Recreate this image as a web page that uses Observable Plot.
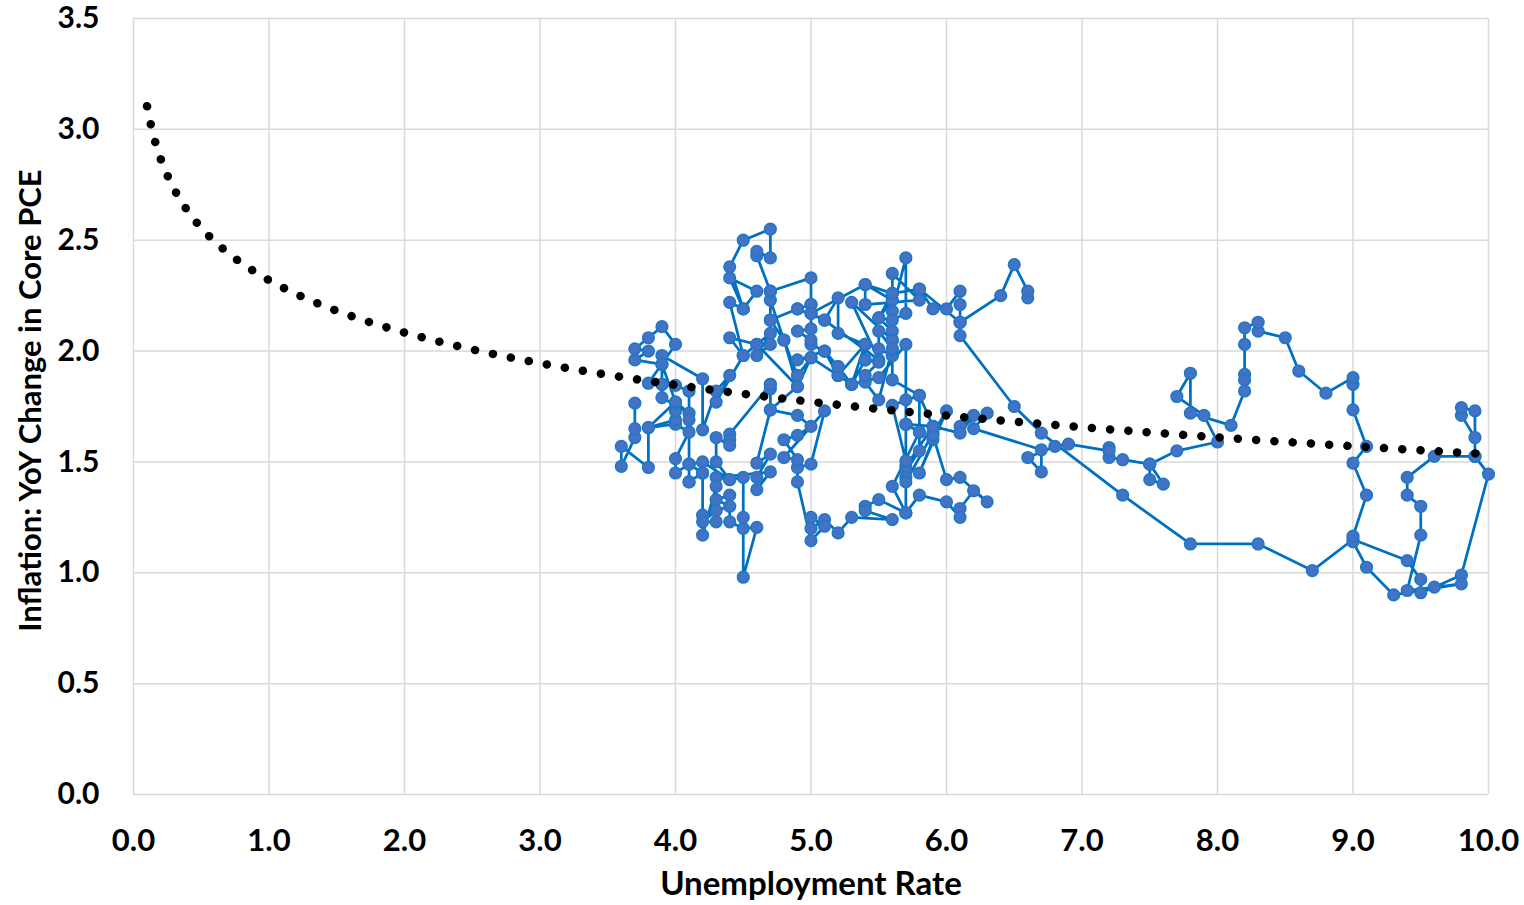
<!DOCTYPE html>
<html>
<head>
<meta charset="utf-8">
<script src="https://cdn.jsdelivr.net/npm/d3@7"></script>
<script src="https://cdn.jsdelivr.net/npm/@observablehq/plot@0.6"></script>
<style>
  html, body { margin: 0; padding: 0; background: #ffffff; }
  #chart svg { display: block; }
</style>
</head>
<body>
<div id="chart"></div>
<script>
const startYear = 1994;

// Unemployment rate (%), x values
const unemployment = [
  6.6,6.6,6.5,6.4,6.1,6.1,6.1,6.0,5.9,5.8,5.6,5.5, // 1994
  5.6,5.4,5.4,5.8,5.6,5.6,5.7,5.7,5.6,5.5,5.6,5.6, // 1995
  5.6,5.5,5.5,5.6,5.6,5.3,5.5,5.1,5.2,5.2,5.4,5.4, // 1996
  5.3,5.2,5.2,5.1,4.9,5.0,4.9,4.8,4.9,4.7,4.6,4.7, // 1997
  4.6,4.6,4.7,4.3,4.4,4.5,4.5,4.5,4.6,4.5,4.4,4.4, // 1998
  4.3,4.4,4.2,4.3,4.2,4.3,4.3,4.2,4.2,4.1,4.1,4.0, // 1999
  4.0,4.1,4.0,3.8,4.0,4.0,4.0,4.1,3.9,3.9,3.9,3.9, // 2000
  4.2,4.2,4.3,4.4,4.3,4.5,4.6,4.9,5.0,5.3,5.5,5.7, // 2001
  5.7,5.7,5.7,5.9,5.8,5.8,5.8,5.7,5.7,5.7,5.9,6.0, // 2002
  5.8,5.9,5.9,6.0,6.1,6.3,6.2,6.1,6.1,6.0,5.8,5.7, // 2003
  5.7,5.6,5.8,5.6,5.6,5.6,5.5,5.4,5.4,5.5,5.4,5.4, // 2004
  5.3,5.4,5.2,5.2,5.1,5.0,5.0,4.9,5.0,5.0,5.0,4.9, // 2005
  4.7,4.8,4.7,4.7,4.6,4.6,4.7,4.7,4.5,4.4,4.5,4.4, // 2006
  4.6,4.5,4.4,4.5,4.4,4.6,4.7,4.6,4.7,4.7,4.7,5.0, // 2007
  5.0,4.9,5.1,5.0,5.4,5.6,5.8,6.1,6.1,6.5,6.7,7.3, // 2008
  7.8,8.3,8.7,9.0,9.4,9.5,9.5,9.6,9.8,10.0,9.9,9.9, // 2009
  9.8,9.8,9.9,9.9,9.6,9.4,9.4,9.5,9.5,9.4,9.8,9.3, // 2010
  9.1,9.0,9.0,9.1,9.0,9.1,9.0,9.0,9.0,8.8,8.6,8.5, // 2011
  8.3,8.3,8.2,8.2,8.2,8.2,8.2,8.1,7.8,7.8,7.7,7.9, // 2012
  8.0,7.7,7.5,7.6,7.5,7.5,7.3,7.2,7.2,7.2,6.9,6.8, // 2013
  6.6,6.7,6.7,6.2,6.3,6.1,6.2,6.1,5.9,5.7,5.8,5.6, // 2014
  5.7,5.5,5.4,5.4,5.6,5.3,5.2,5.1,5.0,5.0,5.1,5.0, // 2015
  4.9,4.9,5.0,5.1,4.8,4.9,4.8,4.9,5.0,4.9,4.7,4.7, // 2016
  4.7,4.7,4.4,4.4,4.4,4.3,4.3,4.4,4.2,4.1,4.2,4.1, // 2017
  4.1,4.1,4.0,3.9,3.8,4.0,3.9,3.8,3.7,3.8,3.7,3.9, // 2018
  4.0,3.8,3.8,3.6,3.6,3.7,3.7,3.7                  // 2019
];

// Inflation: YoY change in core PCE (%), y values
const inflation = [
  2.24,2.27,2.39,2.25,2.13,2.21,2.27,2.19,2.19,2.28,2.26,2.15, // 1994
  2.23,2.30,2.21,2.23,2.35,2.18,2.42,2.17,2.14,2.15,2.09,2.05, // 1995
  2.01,2.09,2.01,1.98,2.05,2.22,1.96,2.14,2.24,2.08,2.03,1.96, // 1996
  1.85,1.93,1.89,2.00,1.96,1.97,1.89,2.05,1.84,1.735,1.495,1.535, // 1997
  1.43,1.375,1.455,1.43,1.42,1.43,1.25,0.98,1.205,1.20,1.23,1.35, // 1998
  1.33,1.30,1.26,1.28,1.23,1.23,1.39,1.17,1.45,1.41,1.49,1.45, // 1999
  1.515,1.635,1.67,1.655,1.69,1.73,1.77,1.72,1.79,1.85,1.94,1.98, // 2000
  1.875,1.645,1.82,1.89,1.77,1.98,2.03,1.84,1.97,1.85,1.88,2.03, // 2001
  1.78,1.67,1.48,1.66,1.80,1.635,1.55,1.46,1.43,1.41,1.63,1.73, // 2002
  1.45,1.60,1.62,1.42,1.43,1.32,1.37,1.29,1.25,1.32,1.35,1.27, // 2003
  1.505,1.755,1.80,1.87,1.98,2.01,1.78,1.86,1.89,1.95,1.96,2.03, // 2004
  1.85,2.03,1.89,1.93,2.00,2.03,2.05,2.09,2.10,2.17,2.21,2.19, // 2005
  2.14,2.05,2.23,2.27,2.43,2.45,2.42,2.55,2.50,2.38,2.19,2.33, // 2006
  2.27,2.19,2.22,1.98,2.06,2.03,2.08,1.98,2.03,2.14,2.27,2.33, // 2007
  2.21,2.19,2.14,2.17,2.30,2.26,2.28,2.13,2.07,1.75,1.63,1.35, // 2008
  1.13,1.13,1.01,1.15,1.055,0.97,0.91,0.935,0.99,1.445,1.525,1.61, // 2009
  1.71,1.745,1.73,1.525,1.525,1.43,1.35,1.30,1.17,0.92,0.95,0.90, // 2010
  1.025,1.14,1.165,1.35,1.495,1.57,1.735,1.85,1.88,1.81,1.91,2.06, // 2011
  2.09,2.13,2.105,2.03,1.895,1.87,1.82,1.665,1.72,1.90,1.795,1.71, // 2012
  1.59,1.55,1.49,1.40,1.42,1.49,1.51,1.52,1.565,1.55,1.58,1.57, // 2013
  1.52,1.455,1.555,1.65,1.72,1.66,1.71,1.63,1.66,1.67,1.635,1.39, // 2014
  1.27,1.33,1.30,1.28,1.24,1.25,1.18,1.24,1.20,1.25,1.21,1.145, // 2015
  1.41,1.475,1.49,1.73,1.52,1.51,1.60,1.62,1.66,1.71,1.735,1.85, // 2016
  1.83,1.85,1.625,1.60,1.575,1.61,1.50,1.42,1.50,1.49,1.45,1.41, // 2017
  1.69,1.82,1.845,1.85,1.855,2.03,2.11,2.06,2.01,2.00,1.96,1.94, // 2018
  1.77,1.655,1.475,1.57,1.48,1.61,1.65,1.765                     // 2019
];

// Axis ticks
const xTicks = [0, 1, 2, 3, 4, 5, 6, 7, 8, 9, 10];
const yTicks = [0, 0.5, 1.0, 1.5, 2.0, 2.5, 3.0, 3.5];

const xLabel = "Unemployment Rate";
const yLabel = "Inflation: YoY Change in Core PCE";

// Build table
const data = unemployment.map((u, i) => ({
  date: new Date(startYear, i, 1),
  u,
  pi: inflation[i]
}));

// Logarithmic trendline (least squares fit of inflation on ln(unemployment))
const lx = data.map(d => Math.log(d.u));
const mx = d3.mean(lx);
const my = d3.mean(data, d => d.pi);
const slope = d3.sum(data, (d, i) => (lx[i] - mx) * (d.pi - my)) /
              d3.sum(lx, v => (v - mx) * (v - mx));
const intercept = my - slope * mx;
const trendX = d3.range(0.1, 10.0001, 0.02);
const trend = trendX.map(x => ({x, y: intercept + slope * Math.log(x)}));

const FONT = "Lato, 'Open Sans', sans-serif";

const chart = Plot.plot({
  width: 1524,
  height: 905,
  marginLeft: 133,
  marginRight: 36,
  marginTop: 18,
  marginBottom: 111,
  style: {fontFamily: FONT, background: "#ffffff", color: "#000", overflow: "visible"},
  x: {domain: [0, 10]},
  y: {domain: [0, 3.5]},
  marks: [
    Plot.gridX(xTicks, {stroke: "#d9d9d9", strokeOpacity: 1, strokeWidth: 1.5}),
    Plot.gridY(yTicks, {stroke: "#d9d9d9", strokeOpacity: 1, strokeWidth: 1.5}),
    Plot.axisX(xTicks, {
      tickSize: 0, tickPadding: 34, tickFormat: d3.format(".1f"),
      fontSize: 31, fontWeight: 700, label: null
    }),
    Plot.axisY(yTicks, {
      tickSize: 0, tickPadding: 34, tickFormat: d3.format(".1f"),
      fontSize: 30, fontWeight: 700, label: null
    }),
    Plot.text([xLabel], {
      frameAnchor: "bottom", dy: 100, text: d => d,
      fontSize: 33, fontWeight: 700, fill: "#000"
    }),
    Plot.text([yLabel], {
      frameAnchor: "left", textAnchor: "middle", lineAnchor: "middle",
      dx: -102, dy: -6, rotate: -90, text: d => d,
      fontSize: 31, fontWeight: 700, fill: "#000"
    }),
    Plot.line(data, {x: "u", y: "pi", stroke: "#0070C0", strokeWidth: 2.75}),
    Plot.dot(data, {x: "u", y: "pi", r: 5.8, fill: "#4472C4", stroke: "#1f78c6", strokeWidth: 1.6}),
    Plot.line(trend, {
      x: "x", y: "y", stroke: "#000", strokeWidth: 8.5,
      strokeDasharray: "0.1,18.2", strokeLinecap: "round"
    })
  ]
});

document.getElementById("chart").append(chart);
</script>
</body>
</html>
